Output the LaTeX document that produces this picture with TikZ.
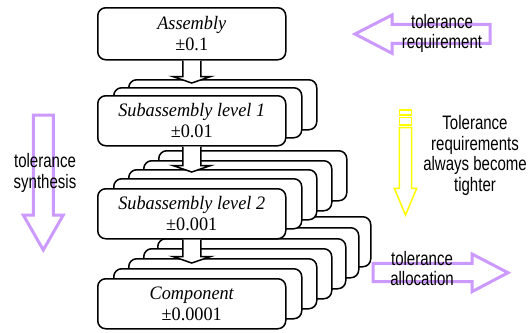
\documentclass[tikz,border=0pt]{standalone}
\usepackage{fontspec}
\setmainfont{Liberation Serif}
\newfontfamily\boxfont[FakeStretch=0.96]{Liberation Serif}
\newfontfamily\labfont[FakeStretch=0.77]{Liberation Sans}
\usetikzlibrary{calc}
\definecolor{lav}{RGB}{204,153,255}
\definecolor{yel}{RGB}{255,255,0}
\begin{document}
\begin{tikzpicture}[x=1pt,y=-1pt,
  card/.style={draw, fill=white, rounded corners=8pt, line width=1.5pt,
    minimum width=188pt, minimum height=50pt, inner sep=0pt, anchor=north west,
    align=center, font=\boxfont\fontsize{19}{20.5}\selectfont},
  blockdown/.style={draw, fill=white, line width=1.5pt, line join=miter,
    to path={let \p1=(\tikztostart), \p2=(\tikztotarget) in
      (\x1-9pt,\y1) -- (\x1-9pt,\y2+6.5pt) -- (\x1-19pt,\y2+6.5pt) -- (\x1,\y2)
      -- (\x1+19pt,\y2+6.5pt) -- (\x1+9pt,\y2+6.5pt) -- (\x1+9pt,\y1)}},
  lavarrow/.style={draw=lav, line width=3pt, line join=miter},
  yelarrow/.style={draw=yel, line width=1.5pt, line join=miter},
  lab/.style={font=\labfont\fontsize{19.5}{20.5}\selectfont, align=center,
    inner sep=0pt, text=black}
]
\useasboundingbox (0,0) rectangle (532,332);
\fill[white] (0,0) rectangle (532,332);

% component stack (back to front)
\node[card] (c7) at (182,216) {};
\node[card] (c6) at (170,227) {};
\node[card] (c5) at (157,238) {};
\node[card] (c4) at (143,248) {};
\node[card] (c3) at (128,258) {};
\node[card] (c2) at (113,268) {};
\node[card] (comp) at (97,278) {\itshape Component\\ ±0.0001};

% subassembly level 2 stack
\node[card] (s25) at (158,150) {};
\node[card] (s24) at (143,160) {};
\node[card] (s23) at (128,169) {};
\node[card] (s22) at (113,178) {};
\node[card] (sub2) at (97,188) {\itshape Subassembly level 2\\ ±0.001};

% subassembly level 1 stack
\node[card] (s13) at (128,79) {};
\node[card] (s12) at (113,87) {};
\node[card] (sub1) at (97,95) {\itshape Subassembly level 1\\ ±0.01};

% assembly
\node[card, minimum height=52pt] (asm) at (97,7) {\itshape Assembly\\ ±0.1};

% block arrows
\coordinate (t1) at (191,83);
\coordinate (t2) at (191,172);
\coordinate (t3) at (191,263);
\draw[blockdown] (asm.south) to (t1);
\draw[blockdown] (sub1.south) to (t2);
\draw[blockdown] (sub2.south) to (t3);

% tolerance requirement (left arrow)
\draw[lavarrow] (355,34) -- (392,15) -- (392,24.3) -- (490,24.3) -- (490,43.3)
  -- (392,43.3) -- (392,53.3) -- cycle;
\node[lab] (treq) at (442,33.5) {tolerance\\requirement};

% tolerance synthesis (down arrow)
\draw[lavarrow] (33.3,115) -- (53.3,115) -- (53.3,215) -- (63.3,215) -- (43.3,250)
  -- (23.3,215) -- (33.3,215) -- cycle;
\node[lab] (tsyn) at (45,173) {tolerance\\synthesis};

% tolerance allocation (right arrow)
\draw[lavarrow] (373,263.3) -- (472,263.3) -- (472,254) -- (508,272.7) -- (472,291.7)
  -- (472,281.7) -- (373,281.7) -- cycle;
\node[lab] (tall) at (422,268.5) {tolerance\\allocation};

% yellow striped arrow
\draw[yelarrow] (399.3,110) rectangle (411.7,115);
\draw[yelarrow] (399.3,117.5) rectangle (411.7,125);
\draw[yelarrow] (399.3,127.5) -- (411.7,127.5) -- (411.7,188.3) -- (416.7,188.3)
  -- (405.5,215) -- (394.3,188.3) -- (399.3,188.3) -- cycle;
\node[lab] (tight) at (475,155.5) {Tolerance\\requirements\\always become\\tighter};
\end{tikzpicture}
\end{document}
